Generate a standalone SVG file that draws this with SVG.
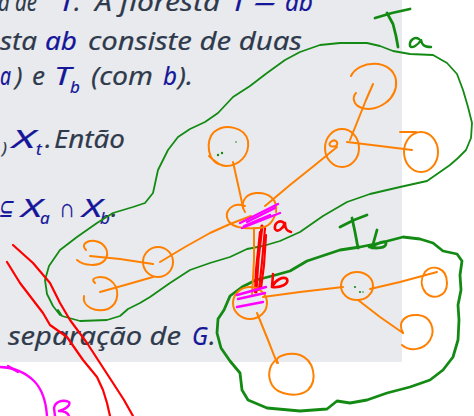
<svg xmlns="http://www.w3.org/2000/svg" width="474" height="416" viewBox="0 0 474 416">
<style>
.t{font-family:"Noto Sans","Open Sans",sans-serif;font-style:italic;font-size:26px;fill:#2f3a4c;stroke:#2f3a4c;stroke-width:0.2}
.m{fill:#16169a;stroke:#16169a}
.s{font-size:17px}
.o{fill:none;stroke:#ff8000;stroke-width:2;stroke-linecap:round;stroke-linejoin:round}
.g{fill:none;stroke:#138a13;stroke-width:1.8;stroke-linecap:round;stroke-linejoin:round}
.gb{fill:none;stroke:#138a13;stroke-width:2.8;stroke-linecap:round;stroke-linejoin:round}
.r{fill:none;stroke:#ff0000;stroke-width:2.2;stroke-linecap:round;stroke-linejoin:round}
.p{fill:none;stroke:#ff00ff;stroke-width:2.4;stroke-linecap:round;stroke-linejoin:round}
.dot{fill:#138a13}
</style>
<rect x="0" y="0" width="402" height="362" fill="#e9eaed"/>
<g id="slide-text">
<text class="t" y="11"><tspan x="-2" textLength="39" lengthAdjust="spacingAndGlyphs">a de</tspan><tspan class="m" x="59" textLength="15" lengthAdjust="spacingAndGlyphs">T</tspan><tspan x="74">.</tspan><tspan x="95" textLength="125" lengthAdjust="spacingAndGlyphs">A floresta</tspan><tspan class="m" x="231" textLength="15" lengthAdjust="spacingAndGlyphs">T</tspan><tspan class="m" x="253" textLength="24" lengthAdjust="spacingAndGlyphs">−</tspan><tspan class="m" x="285" textLength="28" lengthAdjust="spacingAndGlyphs">ab</tspan></text>
<text class="t" y="50"><tspan x="0" textLength="37" lengthAdjust="spacingAndGlyphs">sta</tspan><tspan class="m" x="45" textLength="32" lengthAdjust="spacingAndGlyphs">ab</tspan><tspan x="88" textLength="214" lengthAdjust="spacingAndGlyphs">consiste de duas</tspan></text>
<text class="t" y="85"><tspan class="m" x="0" textLength="11" lengthAdjust="spacingAndGlyphs">a</tspan><tspan x="15">)</tspan><tspan x="32" textLength="13" lengthAdjust="spacingAndGlyphs">e</tspan><tspan class="m" x="54" textLength="17" lengthAdjust="spacingAndGlyphs">T</tspan><tspan class="m s" x="70" y="93">b</tspan><tspan x="91" y="85" textLength="62" lengthAdjust="spacingAndGlyphs">(com</tspan><tspan class="m" x="163" textLength="14" lengthAdjust="spacingAndGlyphs">b</tspan><tspan x="178" textLength="15" lengthAdjust="spacingAndGlyphs">).</tspan></text>
<text class="t" y="148"><tspan class="s" x="2" y="154">)</tspan><tspan class="m" x="12" y="148" textLength="23" lengthAdjust="spacingAndGlyphs">X</tspan><tspan class="m s" x="36" y="155">t</tspan><tspan x="45" y="148">.</tspan><tspan x="54" textLength="71" lengthAdjust="spacingAndGlyphs">Então</tspan></text>
<text class="t" y="217"><tspan class="m" x="-2" textLength="15" lengthAdjust="spacingAndGlyphs">⊆</tspan><tspan class="m" x="21" textLength="21" lengthAdjust="spacingAndGlyphs">X</tspan><tspan class="m s" x="40" y="224">a</tspan><tspan class="m" x="59" y="217" textLength="16" lengthAdjust="spacingAndGlyphs">∩</tspan><tspan class="m" x="82" textLength="20" lengthAdjust="spacingAndGlyphs">X</tspan><tspan class="m s" x="100" y="224">b</tspan><tspan x="111" y="217">.</tspan></text>
<text class="t" y="345"><tspan x="8" textLength="173" lengthAdjust="spacingAndGlyphs">separação de</tspan><tspan class="m" x="192" textLength="16" lengthAdjust="spacingAndGlyphs">G</tspan><tspan x="209">.</tspan></text>
</g>
<g id="outlines">
<path id="Ta-outline" class="g" d="M58,310 L62,316 L80,321 L107,320 L120,316 L128,309 L140,303 L150,297 L170,283 L190,270 L210,263 L230,257 L247,249 L263,246 L280,241 L300,232 L323,216 L347,202 L370,194 L400,187 L427,181 L440,172 L450,165 L458,158 L466,150 L471,138 L472,123 L468,107 L463,90 L457,74 L447,63 L433,55 L410,54 L393,51 L380,46 L367,43 L340,43 L320,45 L300,52 L285,60 L267,73 L250,86 L233,97 L218,113 L205,122 L190,129 L178,137 L168,150 L158,170 L153,193 L145,203 L133,207 L113,213 L97,223 L77,237 L60,250 L49,266 L45,280 L47,294 L53,306 L60,315"/>
<path id="Tb-outline" class="gb" d="M224,310 L230,296 L242,287 L256,280 L272,276 L290,271 L307,261 L325,255 L340,250 L360,247 L380,243 L403,237 L420,239 L433,243 L443,251 L457,254 L462,261 L460,275 L461,290 L458,305 L459,320 L458,340 L453,357 L443,370 L430,380 L410,387 L387,393 L367,400 L350,403 L337,401 L327,409 L300,411 L267,408 L248,400 L242,390 L240,373 L230,361 L221,348 L217,333 L218,319 L224,310"/>
</g>
<g id="labels">
<g id="label-Ta"><path class="gb" d="M375,18 L392,13 L410,9"/><path class="gb" d="M387,13 L393,24 L396,36 L398,47"/><path class="g" style="stroke-width:2.4" d="M419,39 C414,36 409,41 410,46 C412,49 418,45 421,40 C422,44 423,47 431,47"/></g>
<g id="label-Tb"><path class="gb" d="M340,227 L354,220 L367,215"/><path class="gb" d="M352,218 L355,232 L358,248"/><path class="gb" d="M377,230 L372,248 C376,243 385,240 386,243 C387,248 376,249 369,247"/></g>
<g id="label-a"><path class="r" style="stroke-width:2.6" d="M284,223 C280,219 274,223 275,229 C277,233 283,229 285,223 C285,228 286,231 291,232"/></g>
<g id="label-b"><path class="r" style="stroke-width:2.6" d="M273,274 L272,287 C275,280 283,276 287,279 C289,284 281,288 272,287"/></g>
</g>
<g id="connectors">
<path class="o" d="M233,162 L237,180 L241,198 L243,208"/>
<path class="o" d="M265,206 L290,185 L315,165 L337,147"/>
<path class="o" d="M350,140 L360,115 L366,100 L373,84"/>
<path class="o" d="M347,142 L380,146 L412,150"/>
<path class="o" d="M251,216 L230,224 L210,233 L185,247 L160,262"/>
<path class="o" d="M90,256 L120,259 L153,264"/>
<path class="o" d="M100,292 L125,285 L153,277"/>
<path class="o" d="M254,228 L254,260 L253,278 L252,294"/>
<path class="o" d="M263,297 L300,292 L343,287"/>
<path class="o" d="M370,289 L400,282 L437,272"/>
<path class="o" d="M358,300 L380,317 L403,333"/>
<path class="o" d="M257,313 L268,340 L277,363"/>
<path class="r" style="stroke-width:3" d="M262,226 L258,260 L256,292"/>
<path class="r" d="M265,228 L262,262 L259,290"/>
<path class="r" d="M266,235 L264,265 L261,288"/>
<path class="r" d="M260,232 L256,270 L255,292"/>
</g>
<g id="node-A1"><path class="o" d="M222,165 C207,163 205,140 214,132 C225,123 245,127 248,141 C250,156 238,166 226,166 C219,166 213,160 209,156"/><circle class="dot" cx="218" cy="155" r="1.2"/><circle class="dot" cx="222" cy="153" r="1.2"/><circle class="dot" cx="236" cy="142" r="0.8"/></g>
<g id="node-hubA"><path class="o" d="M245,212 C240,204 244,194 256,193 C268,192 278,199 276,212"/><path class="o" d="M245,206 C232,201 224,212 228,220 C232,228 245,229 258,228 C266,228 272,224 275,215"/></g>
<g id="node-A3"><ellipse class="o" cx="342" cy="148" rx="17" ry="19"/><path class="o" d="M336,146 C330,148 327,144 332,141 C336,139 339,143 336,146"/></g>
<g id="node-A4"><path class="o" d="M351,76 C358,60 392,58 396,80 C398,100 377,112 362,108 C353,105 352,97 356,93"/></g>
<g id="node-A5"><ellipse class="o" cx="421" cy="152" rx="17" ry="20"/><path class="o" d="M400,132 L416,132"/></g>
<g id="node-A6"><ellipse class="o" cx="158" cy="262" rx="15" ry="15"/></g>
<g id="node-A7"><path class="o" d="M86,250 C80,244 88,240 95,241 C106,243 110,253 105,260 C99,267 84,266 77,260"/></g>
<g id="node-A8"><path class="o" d="M95,283 C88,277 103,275 110,280 C120,287 120,303 108,309 C96,313 82,307 84,296"/></g>
<g id="node-hubB"><ellipse class="o" cx="250" cy="303" rx="17" ry="16"/></g>
<g id="node-B2"><ellipse class="o" cx="357" cy="286" rx="16" ry="14"/><circle class="dot" cx="355" cy="287" r="1.1"/><circle class="dot" cx="360" cy="292" r="1.1"/><circle class="dot" cx="363" cy="292" r="0.8"/></g>
<g id="node-B3"><path class="o" d="M425,272 C432,264 447,267 447,283 C447,297 433,300 426,293 C420,286 421,278 425,272"/></g>
<g id="node-B4"><path class="o" d="M403,333 C397,322 405,314 418,315 C431,316 436,330 430,340 C424,350 410,352 402,345"/></g>
<g id="node-B5"><path class="o" d="M278,363 C272,356 290,352 300,355 C314,360 318,380 308,390 C298,398 278,395 272,385 C267,376 269,365 276,360"/></g>
<g id="highlights">
<path class="p" d="M240,223 L278,204"/>
<path class="p" d="M242,228 L280,213"/>
<path class="p" d="M247,222 L275,208"/>
<path class="p" d="M244,226 L270,215"/>
<path class="p" d="M237,295 L266,287"/>
<path class="p" d="M238,299 L265,293"/>
<path class="p" d="M237,307 L263,302"/>
</g>
<g id="red-lines">
<path class="r" d="M13,245 L33,263 L50,283 L60,303 L70,320 L87,343 L100,363 L113,383 L124,400 L133,416"/>
<path class="r" d="M7,262 L20,283 L33,300 L43,313 L50,325 L67,337 L83,360 L97,377 L103,390 L107,403 L110,416"/>
</g>
<g id="magenta-marks">
<path class="p" d="M0,367 C12,367 25,372 34,381 C42,389 46,402 47,416"/>
<path class="p" d="M8,366 L18,372"/>
<path class="p" d="M55,416 L54,408 C55,402 62,399 69,402 C71,405 65,410 59,411 C64,411 68,413 69,416"/>
</g>
</svg>
